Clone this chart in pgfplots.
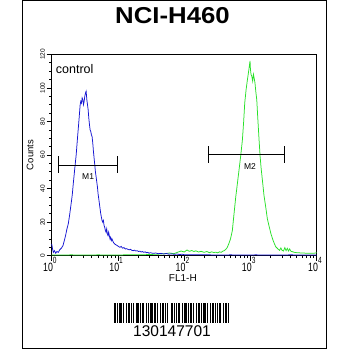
\documentclass[border=0pt]{standalone}
\usepackage{pgfplots}
\pgfplotsset{compat=1.18}
\usepackage{fontspec}
\setmainfont{Liberation Sans}
\definecolor{fcblue}{RGB}{20,20,210}
\definecolor{fcgreen}{RGB}{40,225,40}
\newdimen\bx
\newcommand{\dec}[1]{10\raisebox{6.3pt}{\fontsize{7.5}{7.5}\selectfont #1}}
\begin{document}
\begin{tikzpicture}[x=1pt,y=1pt]
\useasboundingbox (0,0) rectangle (350,350);
\fill[white] (0,0) rectangle (350,350);
\draw[line width=1pt] (22.3,1.7) rectangle (326.7,349.5);
\node[font=\fontsize{23}{23}\selectfont\bfseries, xscale=1.12] at (172.5,334.5) {NCI-H460};
\begin{axis}[
  at={(51.7pt,94.3pt)}, anchor=south west,
  scale only axis, width=265pt, height=201.4pt,
  xmode=log, xmin=1, xmax=10000, ymin=0, ymax=120,
  axis line style={line width=0.9pt},
  tick align=outside, tick pos=left,
  major tick length=5pt, minor tick length=2.5pt,
  every tick/.style={black, line width=0.6pt},
  xtick={1,10,100,1000,10000},
  xticklabels={\dec{0},\dec{1},\dec{2},\dec{3},\dec{4}},
  minor xtick={2,3,4,5,6,7,8,9,20,30,40,50,60,70,80,90,200,300,400,500,600,700,800,900,2000,3000,4000,5000,6000,7000,8000,9000},
  ytick={0,20,40,60,80,100,120},
  yticklabels={0,20,40,60,80,100,120},
  minor ytick={5,10,15,25,30,35,45,50,55,65,70,75,85,90,95,105,110,115},
  xticklabel style={font=\fontsize{10}{10}\selectfont, inner sep=0pt, xscale=0.88, yscale=1.2, yshift=3pt, xshift=-2pt},
  yticklabel style={font=\fontsize{6.5}{6.5}\selectfont, rotate=90, anchor=south, inner sep=1.5pt},
  xlabel={FL1-H}, xlabel style={font=\fontsize{10}{10}\selectfont, at={(axis description cs:0.495,0)}, anchor=north, yshift=-18.6pt, inner sep=0pt},
  ylabel={Counts}, ylabel style={font=\fontsize{9.5}{9.5}\selectfont, at={(axis description cs:0,0.5)}, anchor=south, yshift=18pt, inner sep=0pt},
  clip=false,
]
% green (stained) histogram
\addplot[fcgreen, line width=0.75pt] coordinates {
(1,0.4)(2,0.5)(3,0.4)(5,0.5)(10,0.4)(15,0.6)(20,0.5)(30,0.7)(40,0.9)(50,1.2)(60,1.6)(70,1.2)(80,2.1)(90,2.8)(100,2.2)(110,3.4)(120,2.6)(130,3.1)(140,2.5)(150,2.9)(165,2.2)(180,2.6)(200,2.0)(220,2.5)(240,1.8)(260,2.3)(280,1.9)(300,2.1)(320,1.7)(340,2.3)(360,2.0)(380,2.6)(400,3.0)(420,3.6)(445,4.8)(470,7)(500,10)(533,15)(565,25)(600,35)(635,43)(672,51)(715,60)(756,69)(790,80)(820,91)(860,99)(901,105)(940,110)(970,114)(986,116)(1000,111)(1020,108)(1047,107)(1080,104)(1110,108)(1135,106)(1170,103)(1210,97)(1245,93)(1290,82)(1349,69)(1400,59)(1450,52)(1515,45)(1600,36)(1700,29)(1800,22)(1900,18)(2040,13)(2200,9)(2400,5.4)(2600,4)(2750,3.2)(2880,4.6)(3000,3.2)(3150,2.8)(3300,4.8)(3450,3)(3600,4.4)(3750,2.8)(3900,4.0)(4100,2.6)(4300,2.4)(4600,2.0)(5000,1.8)(6000,1.6)(7000,1.5)(8000,1.4)(9000,1.4)(10000,1.8)
};
% blue (control) histogram
\addplot[fcblue, line width=0.75pt] coordinates {
(1.00,7)(1.03,4)(1.06,2)(1.10,3)(1.15,1.5)(1.20,2.5)(1.26,2)(1.32,3.5)(1.40,4.5)(1.48,6)(1.55,9)(1.62,12)(1.70,16)(1.78,19)(1.86,24)(1.95,30)(2.04,36)(2.13,44)(2.23,52)(2.34,60)(2.45,70)(2.57,80)(2.69,90)(2.75,92)(2.82,91)(2.88,94)(2.95,93)(3.02,90)(3.09,92)(3.16,95)(3.24,97)(3.31,98)(3.39,93)(3.47,90)(3.55,87)(3.63,82)(3.72,78)(3.80,75)(3.89,74)(3.98,72)(4.07,71)(4.17,67)(4.27,62)(4.37,58)(4.47,54)(4.57,50)(4.68,47)(4.79,44)(4.90,41)(5.01,37)(5.13,34)(5.25,31)(5.37,28)(5.50,25)(5.62,23)(5.75,21)(5.89,20)(6.03,21)(6.17,18)(6.31,17)(6.46,15)(6.61,14)(6.76,16)(6.92,13)(7.08,12)(7.24,14)(7.41,12)(7.59,10)(7.76,11)(7.94,9)(8.13,10)(8.51,8)(8.91,7)(9.33,6.5)(9.77,6)(10.2,5.5)(10.7,5)(11.2,5.5)(11.7,4.5)(12.3,4.8)(12.9,4)(13.5,4.2)(14.1,3.8)(14.8,3.5)(15.5,3.8)(16.2,3.2)(17.0,3)(17.8,3.3)(18.6,2.8)(19.5,3)(20.4,2.5)(21.4,2.7)(22.4,2.2)(23.4,2.5)(24.5,2)(25.7,2.3)(26.9,1.8)(28.2,2)(29.5,1.5)(30.9,1.8)(33.9,1.4)(37.2,1.6)(40.7,1.2)(44.7,1.4)(49.0,1.0)(53.7,1.3)(58.9,0.9)(64.6,1.1)(70.8,0.8)(77.6,1.0)(85.1,0.7)(93.3,0.9)(100,0.6)(150,0.5)(200,0.6)(300,0.4)(500,0.5)(800,0.4)(1200,0.5)(2000,0.4)(4000,0.5)(10000,0.4)
};
% M1 gate
\addplot[black, line width=0.7pt] coordinates {(1.26,54.1)(9.87,54.1)};
\addplot[black, line width=0.7pt] coordinates {(1.26,49.5)(1.26,59.5)};
\addplot[black, line width=0.7pt] coordinates {(9.87,49.5)(9.87,59.5)};
% M2 gate
\addplot[black, line width=0.7pt] coordinates {(228,60.4)(3228,60.4)};
\addplot[black, line width=0.7pt] coordinates {(228,55.5)(228,65.5)};
\addplot[black, line width=0.7pt] coordinates {(3228,55.5)(3228,65.5)};
\node[font=\fontsize{8.5}{8.5}\selectfont] at (axis cs:3.55,46.9) {M1};
\node[font=\fontsize{8.5}{8.5}\selectfont] at (axis cs:986,52.9) {M2};
\node[font=\fontsize{12.5}{12.5}\selectfont, anchor=west, inner sep=0pt] at (axis cs:1.15,111.5) {control};
\end{axis}
% barcode
\global\bx=114pt
\foreach \w/\s in {2/1,1/1,3/1,1/2,1/1,2/1,1/1,1/2,3/1,1/1,2/2,1/1,1/1,3/1,2/1,1/2,1/1,2/1,1/1,1/3,2/1,1/1,1/1,2/2,1/1,3/1,1/1,2/1,1/2,1/1,2/1,1/1,3/1,1/2,1/1,2/1,1/1,1/1,2/2,1/1,2/1,1/0}{
  \fill[black] (\bx,27.3) rectangle ++(\w,19.4);
  \global\advance\bx by \w pt
  \global\advance\bx by \s pt
}
\node[font=\fontsize{15.5}{15.5}\selectfont, inner sep=0pt] at (172,18.8) {130147701};
\end{tikzpicture}
\end{document}
